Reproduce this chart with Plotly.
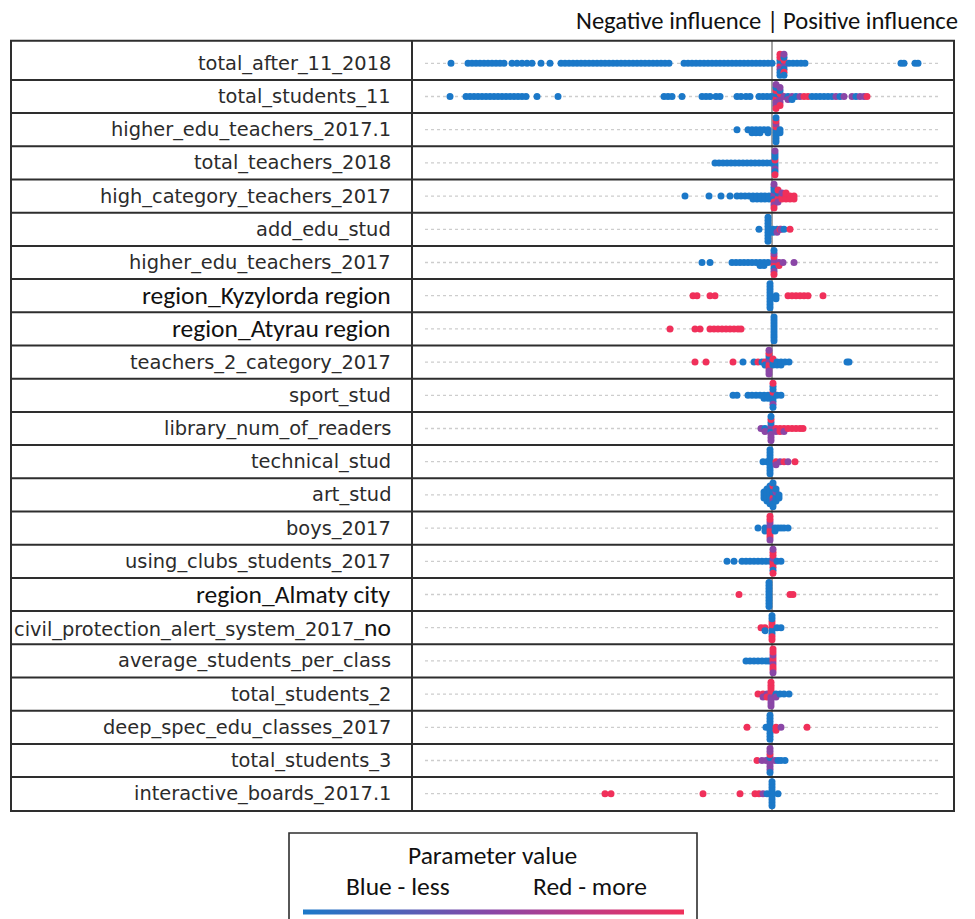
import math
import plotly.graph_objects as go

# Colour level of each point: 0 = low parameter value, 1 = high parameter value
B, P, R = 0.0, 0.5, 1.0

features = [
    "total_after_11_2018", "total_students_11", "higher_edu_teachers_2017.1",
    "total_teachers_2018", "high_category_teachers_2017", "add_edu_stud",
    "higher_edu_teachers_2017", "region_Kyzylorda region", "region_Atyrau region",
    "teachers_2_category_2017", "sport_stud", "library_num_of_readers",
    "technical_stud", "art_stud", "boys_2017", "using_clubs_students_2017",
    "region_Almaty city", "civil_protection_alert_system_2017_no",
    "average_students_per_class", "total_students_2", "deep_spec_edu_classes_2017",
    "total_students_3", "interactive_boards_2017.1",
]
# features whose names are set in the larger face
wide_font_features = ["region_Kyzylorda region", "region_Atyrau region", "region_Almaty city"]

# (influence value, parameter level) per feature
pts_total_after_11_2018 = [
    (-3.21, B),
    (-3.04, B), (-3.00, B), (-2.96, B), (-2.92, B), (-2.88, B), (-2.84, B), (-2.80, B), (-2.76, B), (-2.72, B), (-2.68, B),
    (-2.60, B), (-2.55, B), (-2.50, B), (-2.45, B), (-2.40, B), (-2.31, B), (-2.22, B),
    (-2.11, B), (-2.07, B), (-2.03, B), (-1.99, B), (-1.95, B), (-1.91, B), (-1.87, B), (-1.83, B), (-1.79, B), (-1.75, B),
    (-1.71, B), (-1.67, B), (-1.63, B), (-1.59, B), (-1.55, B), (-1.51, B), (-1.47, B), (-1.43, B), (-1.39, B), (-1.35, B),
    (-1.31, B), (-1.27, B), (-1.23, B), (-1.19, B), (-1.15, B), (-1.11, B), (-1.07, B), (-1.03, B),
    (-0.88, B), (-0.84, B), (-0.80, B), (-0.76, B), (-0.72, B), (-0.68, B), (-0.64, B), (-0.60, B), (-0.56, B), (-0.52, B),
    (-0.48, B), (-0.44, B), (-0.40, B), (-0.36, B), (-0.32, B), (-0.28, B), (-0.24, B), (-0.20, B), (-0.16, B), (-0.12, B),
    (-0.08, B), (-0.04, B), (0.00, B),
    (0.08, B), (0.08, R), (0.08, B), (0.08, P), (0.08, R), (0.08, B), (0.08, R), (0.08, B),
    (0.12, B), (0.12, P), (0.12, R), (0.12, B), (0.12, B), (0.12, R), (0.12, P), (0.12, B),
    (0.17, B), (0.21, B), (0.25, B), (0.29, B), (0.33, B),
    (1.29, B), (1.32, B), (1.43, B), (1.46, B),
]
pts_total_students_11 = [
    (-3.22, B),
    (-3.06, B), (-3.02, B), (-2.98, B), (-2.94, B), (-2.90, B), (-2.86, B), (-2.82, B), (-2.78, B),
    (-2.74, B), (-2.70, B), (-2.66, B), (-2.62, B), (-2.58, B), (-2.54, B), (-2.50, B), (-2.46, B),
    (-2.35, B), (-2.14, B),
    (-1.08, B), (-1.04, B), (-1.00, B), (-0.90, B),
    (-0.70, B), (-0.66, B), (-0.62, B), (-0.56, B), (-0.52, B),
    (-0.35, B), (-0.31, B), (-0.26, B), (-0.22, B),
    (-0.13, B), (-0.09, B), (-0.05, B), (-0.01, B),
    (0.04, P), (0.04, R), (0.04, B), (0.04, P), (0.04, R), (0.04, P), (0.04, B), (0.04, R), (0.04, P),
    (0.08, B), (0.08, P), (0.08, R), (0.08, P), (0.08, B), (0.08, R), (0.08, P),
    (0.12, P), (0.16, B), (0.16, P), (0.20, P), (0.20, B), (0.24, B), (0.28, P), (0.32, R), (0.36, R),
    (0.40, B), (0.44, B), (0.48, B), (0.52, B), (0.56, B), (0.60, B), (0.64, P), (0.68, B), (0.72, P),
    (0.80, P), (0.84, B), (0.88, P), (0.92, P), (0.95, R),
]
pts_higher_edu_teachers_2017_1 = [
    (-0.35, B), (-0.24, B), (-0.20, B), (-0.20, B), (-0.16, B), (-0.16, B), (-0.12, B), (-0.12, B),
    (-0.08, B), (-0.04, B), (-0.04, B),
    (0.04, B), (0.04, B), (0.04, R), (0.04, B), (0.04, P), (0.04, B), (0.04, R), (0.04, B), (0.04, B),
    (0.08, B), (0.08, B),
]
pts_total_teachers_2018 = [
    (-0.57, B), (-0.53, B), (-0.49, B), (-0.45, B), (-0.41, B), (-0.37, B), (-0.33, B), (-0.29, B),
    (-0.25, B), (-0.21, B), (-0.17, B), (-0.13, B), (-0.09, B), (-0.05, B), (-0.01, B),
    (0.03, B), (0.03, B), (0.03, R), (0.03, P), (0.03, B), (0.03, B), (0.03, B), (0.03, R), (0.03, P),
]
pts_high_category_teachers_2017 = [
    (-0.87, B), (-0.63, B), (-0.51, B), (-0.42, B),
    (-0.35, B), (-0.31, B), (-0.27, B), (-0.23, B), (-0.19, B), (-0.19, B), (-0.15, B), (-0.15, B),
    (-0.11, B), (-0.11, B), (-0.07, B), (-0.07, B), (-0.03, B), (-0.03, B),
    (0.02, P), (0.02, B), (0.02, P), (0.02, R), (0.02, B), (0.02, P), (0.02, B), (0.02, R), (0.02, P),
    (0.06, P), (0.06, R), (0.06, B), (0.06, P), (0.06, R),
    (0.10, R), (0.10, R), (0.10, P), (0.14, R), (0.14, R), (0.14, R), (0.18, R), (0.18, R), (0.22, R), (0.22, R),
]
pts_add_edu_stud = [
    (-0.13, B),
    (-0.04, B), (-0.04, B), (-0.04, B), (-0.04, B), (-0.04, B), (-0.04, B), (-0.04, B), (-0.04, B), (-0.04, B),
    (0.01, B), (0.01, B), (0.05, B), (0.05, P), (0.08, R), (0.09, P), (0.12, B), (0.18, R),
]
pts_higher_edu_teachers_2017 = [
    (-0.70, B), (-0.62, B),
    (-0.40, B), (-0.36, B), (-0.32, B), (-0.28, B), (-0.24, B), (-0.20, B), (-0.16, B), (-0.12, B),
    (-0.12, B), (-0.08, B), (-0.08, B), (-0.04, B),
    (0.02, P), (0.02, R), (0.02, P), (0.02, B), (0.02, R), (0.02, P), (0.02, P), (0.02, R), (0.02, B),
    (0.07, P), (0.07, R), (0.11, P), (0.22, P),
]
pts_region_kyzylorda = [
    (-0.79, R), (-0.75, R), (-0.62, R), (-0.57, R),
    (-0.02, B), (-0.02, B), (-0.02, B), (-0.02, B), (-0.02, B), (-0.02, B), (-0.02, B), (-0.02, B), (-0.02, B),
    (0.04, B), (0.04, B),
    (0.16, R), (0.20, R), (0.24, R), (0.28, R), (0.32, R), (0.36, R), (0.51, R),
]
pts_region_atyrau = [
    (-1.02, R), (-0.77, R), (-0.72, R), (-0.62, R), (-0.58, R), (-0.54, R), (-0.50, R), (-0.46, R),
    (-0.42, R), (-0.38, R), (-0.34, R), (-0.31, R),
    (0.02, B), (0.02, B), (0.02, B), (0.02, B), (0.02, B), (0.02, B), (0.02, B), (0.02, B), (0.02, B),
]
pts_teachers_2_category_2017 = [
    (-0.77, R), (-0.66, R), (-0.39, R), (-0.29, B), (-0.18, B), (-0.14, R), (-0.10, B), (-0.07, R), (-0.07, B),
    (-0.03, P), (-0.03, R), (-0.03, P), (-0.03, R), (-0.03, B), (-0.03, P), (-0.03, R), (-0.03, P), (-0.03, P),
    (0.01, B), (0.01, B), (0.01, R), (0.05, B), (0.05, B), (0.09, B), (0.09, B), (0.13, B), (0.17, B),
    (0.75, B), (0.77, B),
]
pts_sport_stud = [
    (-0.39, B), (-0.35, B), (-0.24, B), (-0.20, B), (-0.16, B), (-0.12, B), (-0.08, B), (-0.08, B),
    (-0.04, B), (-0.04, B),
    (0.01, B), (0.01, B), (0.01, R), (0.01, B), (0.01, B), (0.01, P), (0.01, B), (0.01, B), (0.01, R),
    (0.05, B), (0.09, B),
]
pts_library_num_of_readers = [
    (-0.11, P), (-0.07, B), (-0.07, P),
    (-0.01, P), (-0.01, B), (-0.01, P), (-0.01, P), (-0.01, B), (-0.01, P), (-0.01, R), (-0.01, P), (-0.01, B),
    (0.04, R), (0.04, P), (0.08, R), (0.08, R), (0.12, R), (0.12, P), (0.16, R), (0.20, R), (0.24, R),
    (0.28, R), (0.31, R),
]
pts_technical_stud = [
    (-0.09, B), (-0.05, B),
    (-0.02, B), (-0.02, B), (-0.02, B), (-0.02, B), (-0.02, B), (-0.02, B), (-0.02, B), (-0.02, B), (-0.02, B),
    (0.04, R), (0.04, P), (0.08, P), (0.12, R), (0.16, P), (0.23, R),
]
pts_art_stud = [
    (-0.08, B), (-0.08, B), (-0.08, B),
    (-0.05, B), (-0.05, B), (-0.05, B), (-0.05, B), (-0.05, B),
    (-0.02, B), (-0.02, B), (-0.02, B), (-0.02, B), (-0.02, B), (-0.02, B), (-0.02, B),
    (0.01, B), (0.01, R), (0.01, B), (0.01, P), (0.01, B), (0.01, B), (0.01, R), (0.01, B), (0.01, B),
    (0.04, B), (0.04, B), (0.04, P), (0.04, B), (0.04, B),
    (0.07, B), (0.07, B),
]
pts_boys_2017 = [
    (-0.14, B), (-0.07, B), (-0.07, B),
    (-0.02, P), (-0.02, R), (-0.02, P), (-0.02, R), (-0.02, P), (-0.02, R), (-0.02, R), (-0.02, P), (-0.02, R),
    (0.03, B), (0.03, B), (0.06, B), (0.09, B), (0.12, B), (0.16, B),
]
pts_using_clubs_students_2017 = [
    (-0.45, B), (-0.38, B), (-0.30, B), (-0.26, B), (-0.22, B), (-0.18, B), (-0.14, B), (-0.10, B),
    (-0.06, B), (-0.02, B),
    (0.01, R), (0.01, R), (0.01, P), (0.01, R), (0.01, R), (0.01, B), (0.01, R), (0.01, R), (0.01, P),
    (0.05, B), (0.09, B),
]
pts_region_almaty_city = [
    (-0.33, R),
    (-0.03, B), (-0.03, B), (-0.03, B), (-0.03, B), (-0.03, B), (-0.03, B), (-0.03, B), (-0.03, B), (-0.03, B),
    (0.18, R), (0.21, R),
]
pts_civil_protection_no = [
    (-0.11, R), (-0.07, R), (-0.07, B),
    (0.00, R), (0.00, B), (0.00, R), (0.00, B), (0.00, R), (0.00, R), (0.00, B), (0.00, R), (0.00, B),
    (0.05, B), (0.09, B),
]
pts_average_students_per_class = [
    (-0.26, B), (-0.22, B), (-0.18, B), (-0.14, B), (-0.10, B), (-0.06, B), (-0.03, B),
    (0.01, R), (0.01, P), (0.01, R), (0.01, R), (0.01, P), (0.01, R), (0.01, R), (0.01, P), (0.01, R),
]
pts_total_students_2 = [
    (-0.14, R), (-0.09, R), (-0.09, P), (-0.05, P), (-0.05, R),
    (-0.01, R), (-0.01, P), (-0.01, R), (-0.01, P), (-0.01, R), (-0.01, P), (-0.01, R), (-0.01, P), (-0.01, R),
    (0.04, B), (0.04, P), (0.08, B), (0.12, B), (0.17, B),
]
pts_deep_spec_edu_classes_2017 = [
    (-0.25, R), (-0.06, B),
    (-0.02, B), (-0.02, B), (-0.02, B), (-0.02, B), (-0.02, B), (-0.02, B), (-0.02, B), (-0.02, B), (-0.02, B),
    (0.04, R), (0.04, R), (0.09, P), (0.35, R),
]
pts_total_students_3 = [
    (-0.15, R), (-0.10, P), (-0.06, P),
    (-0.02, P), (-0.02, P), (-0.02, B), (-0.02, P), (-0.02, R), (-0.02, P), (-0.02, P), (-0.02, B), (-0.02, P),
    (0.03, P), (0.06, B), (0.09, B), (0.13, B),
]
pts_interactive_boards_2017_1 = [
    (-1.67, R), (-1.61, R), (-0.69, R), (-0.32, R), (-0.17, R), (-0.13, R), (-0.09, P), (-0.05, B),
    (0.00, B), (0.00, B), (0.00, B), (0.00, B), (0.00, B), (0.00, B), (0.00, B), (0.00, B), (0.00, B),
    (0.06, B),
]

feature_points = [
    pts_total_after_11_2018, pts_total_students_11, pts_higher_edu_teachers_2017_1,
    pts_total_teachers_2018, pts_high_category_teachers_2017, pts_add_edu_stud,
    pts_higher_edu_teachers_2017, pts_region_kyzylorda, pts_region_atyrau,
    pts_teachers_2_category_2017, pts_sport_stud, pts_library_num_of_readers,
    pts_technical_stud, pts_art_stud, pts_boys_2017, pts_using_clubs_students_2017,
    pts_region_almaty_city, pts_civil_protection_no, pts_average_students_per_class,
    pts_total_students_2, pts_deep_spec_edu_classes_2017, pts_total_students_3,
    pts_interactive_boards_2017_1,
]

title_left = "Negative influence"
title_sep = "|"
title_right = "Positive influence"
legend_title = "Parameter value"
legend_low = "Blue - less"
legend_high = "Red - more"

# ---------------------------------------------------------------- layout
W, H = 975, 919
ROW_PX = 33.2          # pixel height of one feature row
FIRST_ROW_PX = 63.3    # pixel centre of the first row
ZERO_PX = 772          # pixel position of zero influence
UNIT_PX = 100          # pixels per influence unit
STACK = 0.09           # vertical step between stacked points (rows)

x_range = [-ZERO_PX / UNIT_PX, (W - ZERO_PX) / UNIT_PX]
y_top = -FIRST_ROW_PX / ROW_PX
y_bot = (H - FIRST_ROW_PX) / ROW_PX

def px(x):
    return x / W

def py(y):
    return 1 - y / H

DEJAVU = "DejaVu Sans"
WIDE = "Carlito, Calibri, Lato, sans-serif"
WIDE_SIZE = 25.5
colorscale = [[0.0, "#1b78c8"], [0.25, "#5062b8"], [0.5, "#8a46a6"], [0.75, "#c23a82"], [1.0, "#f0305a"]]

# beeswarm stacking: equal values are spread alternately up and down
xs, ys, cs = [], [], []
for i, pts in enumerate(feature_points):
    layers = {}
    for v, lvl in pts:
        k = round(v, 3)
        n = layers.get(k, 0)
        layers[k] = n + 1
        off = math.ceil(n / 2) * (1 if n % 2 else -1)
        xs.append(v)
        ys.append(i + off * STACK)
        cs.append(lvl)

fig = go.Figure()
fig.add_trace(go.Scatter(
    x=xs, y=ys, mode="markers", hoverinfo="skip",
    marker=dict(
        size=7, color=cs, colorscale=colorscale, cmin=0, cmax=1, line=dict(width=0),
        showscale=True,
        colorbar=dict(
            orientation="h", x=px(493.5), xanchor="center", y=py(911.5), yanchor="middle",
            len=381, lenmode="pixels", thickness=5, thicknessmode="pixels",
            outlinewidth=0, showticklabels=False, ticks="", xpad=0, ypad=0,
        ),
    ),
))

shapes = []
n_rows = len(features)
table_top, table_bot = 40.7, 811.0
line_style = dict(color="#2e2e2e", width=2)

# dotted guides along each row
for i in range(n_rows):
    shapes.append(dict(type="line", xref="paper", yref="y", x0=px(425), x1=px(941), y0=i, y1=i,
                       line=dict(color="#cdcdcd", width=1.3, dash="dot"), layer="below"))
# zero line
shapes.append(dict(type="line", xref="x", yref="paper", x0=0, x1=0, y0=py(table_top), y1=py(table_bot),
                   line=dict(color="#8c8c8c", width=1.6), layer="below"))
# table frame, column divider and row separators
shapes.append(dict(type="rect", xref="paper", yref="paper", x0=px(11), x1=px(954),
                   y0=py(table_bot), y1=py(table_top), line=line_style))
shapes.append(dict(type="line", xref="paper", yref="paper", x0=px(412), x1=px(412),
                   y0=py(table_bot), y1=py(table_top), line=line_style))
for i in range(n_rows - 1):
    shapes.append(dict(type="line", xref="paper", yref="y", x0=px(11), x1=px(954),
                       y0=i + 0.5, y1=i + 0.5, line=line_style))
# legend box
shapes.append(dict(type="rect", xref="paper", yref="paper", x0=px(289), x1=px(697),
                   y0=py(930), y1=py(833), line=dict(color="#2e2e2e", width=1.6)))

annotations = []
label_font = dict(family=DEJAVU, size=19.4, color="#2b2b2b")
for i, name in enumerate(features):
    if name in wide_font_features:
        text, font = name, dict(family=WIDE, size=WIDE_SIZE, color="#111111")
    elif name.endswith("_no"):
        text = (name[:-2] + '<span style="font-family:Carlito, Calibri, Lato, sans-serif;'
                'font-size:25.5px;fill:#111111">no</span>')
        font = label_font
    else:
        text, font = name, label_font
    annotations.append(dict(text=text, xref="paper", yref="y", x=px(393), y=i,
                            xanchor="right", yanchor="middle", showarrow=False, font=font))

title_font = dict(family=WIDE, size=24.6, color="#111111")
legend_font = dict(family=WIDE, size=WIDE_SIZE, color="#111111")
annotations += [
    dict(text=title_left, xref="paper", yref="paper", x=px(763), y=py(21), xanchor="right",
         yanchor="middle", showarrow=False, font=title_font),
    dict(text=title_sep, xref="paper", yref="paper", x=px(772), y=py(21), xanchor="center",
         yanchor="middle", showarrow=False, font=title_font),
    dict(text=title_right, xref="paper", yref="paper", x=px(781), y=py(21), xanchor="left",
         yanchor="middle", showarrow=False, font=title_font),
    dict(text=legend_title, xref="paper", yref="paper", x=px(492.5), y=py(855), xanchor="center",
         yanchor="middle", showarrow=False, font=legend_font),
    dict(text=legend_low, xref="paper", yref="paper", x=px(397.5), y=py(886), xanchor="center",
         yanchor="middle", showarrow=False, font=legend_font),
    dict(text=legend_high, xref="paper", yref="paper", x=px(590), y=py(886), xanchor="center",
         yanchor="middle", showarrow=False, font=legend_font),
]

fig.update_layout(
    width=W, height=H, autosize=False,
    margin=dict(l=0, r=0, t=0, b=0, pad=0),
    paper_bgcolor="white", plot_bgcolor="white",
    showlegend=False,
    xaxis=dict(range=x_range, visible=False, fixedrange=True, domain=[0, 1]),
    yaxis=dict(range=[y_bot, y_top], visible=False, fixedrange=True, domain=[0, 1]),
    shapes=shapes, annotations=annotations,
)

fig.write_html("out.html", config={"displayModeBar": False})
